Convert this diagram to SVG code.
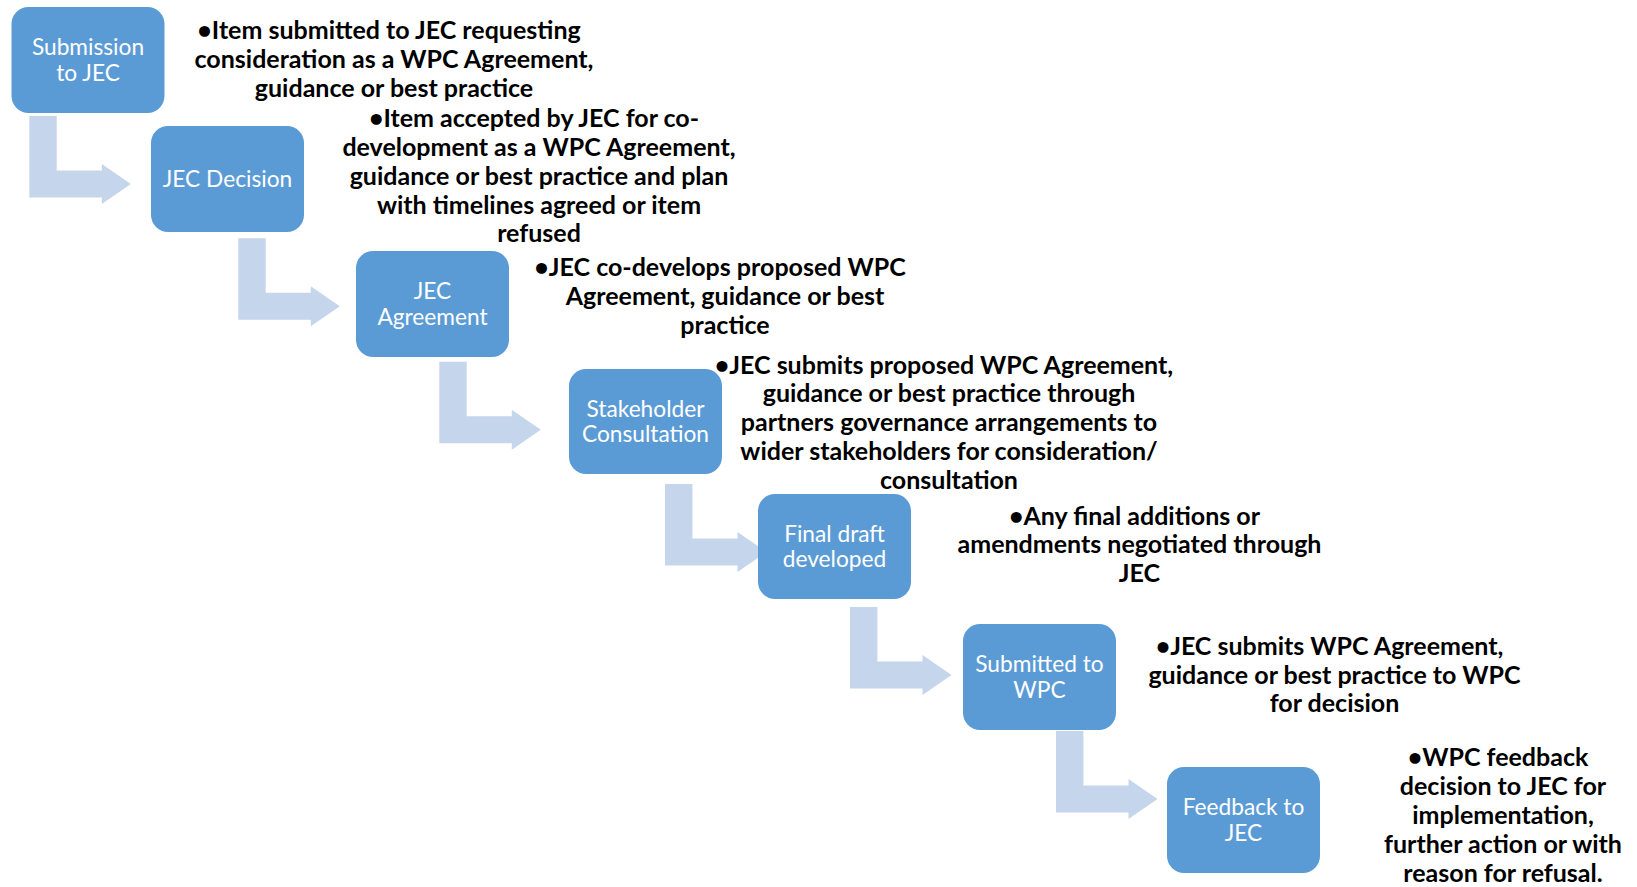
<svg xmlns="http://www.w3.org/2000/svg" width="1637" height="887" viewBox="0 0 1637 887">
<defs>
<style>
.arrow{fill:#C5D5EB;}
.box{fill:#5B9BD5;}
.bt{font-family:Lato,"Open Sans","Liberation Sans",sans-serif;font-size:22.7px;fill:#FFFFFF;text-anchor:middle;}
.tx{font-family:Lato,"Open Sans","Liberation Sans",sans-serif;font-size:25px;font-weight:bold;fill:#000000;text-anchor:middle;}
</style>
<path id="bent" d="M0,0 H27.4 V54.5 H72.5 V48 L101.5,68 L72.5,88 V81.5 H0 Z"/>
</defs>
<rect width="1637" height="887" fill="#FFFFFF"/>
<g id="connectors">
<use href="#bent" class="arrow" x="29.3" y="116"/>
<use href="#bent" class="arrow" x="238.3" y="238.3"/>
<use href="#bent" class="arrow" x="439.3" y="361.7"/>
<use href="#bent" class="arrow" x="665" y="484"/>
<use href="#bent" class="arrow" x="850" y="607"/>
<use href="#bent" class="arrow" x="1056" y="731"/>
</g>
<g id="node1">
<rect class="box" x="11.5" y="7" width="153" height="106" rx="17"/>
<text class="bt" x="88" y="55">Submission</text>
<text class="bt" x="88" y="80.5">to JEC</text>
</g>
<g id="node2">
<rect class="box" x="151" y="126" width="153" height="106" rx="17"/>
<text class="bt" x="227.5" y="186.5">JEC Decision</text>
</g>
<g id="node3">
<rect class="box" x="356" y="251" width="153" height="106" rx="17"/>
<text class="bt" x="432.5" y="299">JEC</text>
<text class="bt" x="432.5" y="324.5">Agreement</text>
</g>
<g id="node4">
<rect class="box" x="569" y="369" width="153" height="105" rx="17"/>
<text class="bt" x="645.5" y="416.5">Stakeholder</text>
<text class="bt" x="645.5" y="442">Consultation</text>
</g>
<g id="node5">
<rect class="box" x="758" y="494" width="153" height="105" rx="17"/>
<text class="bt" x="834.5" y="541.5">Final draft</text>
<text class="bt" x="834.5" y="567">developed</text>
</g>
<g id="node6">
<rect class="box" x="963" y="624" width="153" height="106" rx="17"/>
<text class="bt" x="1039.5" y="672">Submitted to</text>
<text class="bt" x="1039.5" y="697.5">WPC</text>
</g>
<g id="node7">
<rect class="box" x="1167" y="767" width="153" height="106" rx="17"/>
<text class="bt" x="1243.5" y="815">Feedback to</text>
<text class="bt" x="1243.5" y="840.5">JEC</text>
</g>
<g id="text1">
<text class="tx" x="389" y="39.3">•Item submitted to JEC requesting</text>
<text class="tx" x="394" y="68.3">consideration as a WPC Agreement,</text>
<text class="tx" x="394" y="97">guidance or best practice</text>
</g>
<g id="text2">
<text class="tx" x="534" y="126.7">•Item accepted by JEC for co-</text>
<text class="tx" x="539" y="155.5">development as a WPC Agreement,</text>
<text class="tx" x="539" y="184.5">guidance or best practice and plan</text>
<text class="tx" x="539" y="213.5">with timelines agreed or item</text>
<text class="tx" x="539" y="242">refused</text>
</g>
<g id="text3">
<text class="tx" x="720" y="276">•JEC co-develops proposed WPC</text>
<text class="tx" x="725" y="305">Agreement, guidance or best</text>
<text class="tx" x="725" y="334">practice</text>
</g>
<g id="text4">
<text class="tx" x="944" y="373.5">•JEC submits proposed WPC Agreement,</text>
<text class="tx" x="949" y="402.2">guidance or best practice through</text>
<text class="tx" x="949" y="431">partners governance arrangements to</text>
<text class="tx" x="949" y="459.7">wider stakeholders for consideration/</text>
<text class="tx" x="949" y="488.5">consultation</text>
</g>
<g id="text5">
<text class="tx" x="1134.5" y="524.5">•Any final additions or</text>
<text class="tx" x="1139.5" y="553.3">amendments negotiated through</text>
<text class="tx" x="1139.5" y="582">JEC</text>
</g>
<g id="text6">
<text class="tx" x="1329.5" y="655">•JEC submits WPC Agreement,</text>
<text class="tx" x="1334.5" y="683.5">guidance or best practice to WPC</text>
<text class="tx" x="1334.5" y="712">for decision</text>
</g>
<g id="text7">
<text class="tx" x="1498" y="766">•WPC feedback</text>
<text class="tx" x="1503" y="795">decision to JEC for</text>
<text class="tx" x="1503" y="824">implementation,</text>
<text class="tx" x="1503" y="853">further action or with</text>
<text class="tx" x="1503" y="882">reason for refusal.</text>
</g>
</svg>
